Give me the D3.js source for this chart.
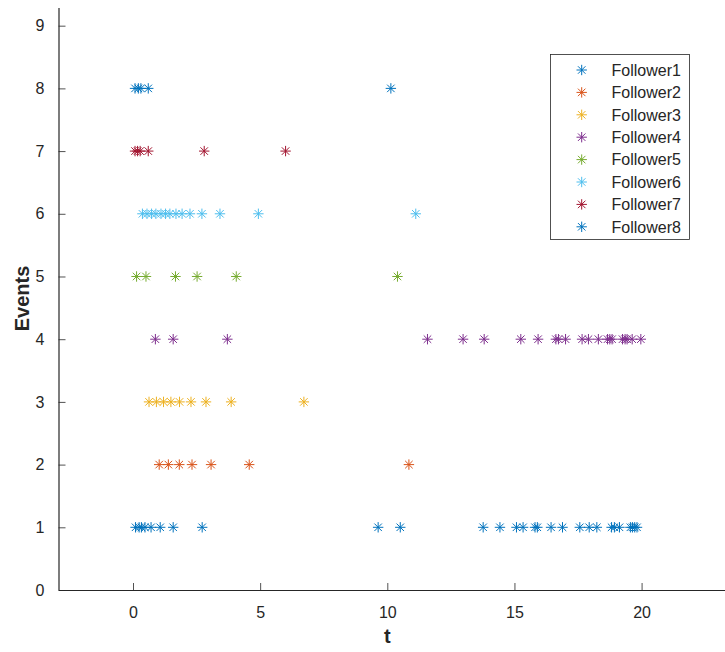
<!DOCTYPE html>
<html>
<head>
<meta charset="utf-8">
<script src="https://cdn.jsdelivr.net/npm/d3@7/dist/d3.min.js"></script>
<style>
  html, body { margin: 0; padding: 0; background: #fff; }
  svg { display: block; }
  text { font-family: "Liberation Sans", Arial, sans-serif; fill: #262626; }
</style>
</head>
<body>
<svg id="chart" width="725" height="652"></svg>
<script>
// ---- Data ----
const seriesNames = ["Follower1","Follower2","Follower3","Follower4","Follower5","Follower6","Follower7","Follower8"];
const seriesColors = ["#0072BD","#D95319","#EDB120","#7E2F8E","#77AC30","#4DBEEE","#A2142F","#0072BD"];
const eventLevels = [1, 2, 3, 4, 5, 6, 7, 8];

const f1Times = [0.10, 0.24, 0.33, 0.47, 0.71, 1.07, 1.58, 2.72, 9.64, 10.51, 13.77, 14.43, 15.08, 15.34, 15.81, 15.90, 16.44, 16.89, 17.57, 17.94, 18.24, 18.82, 18.93, 19.13, 19.56, 19.64, 19.73, 19.82];
const f2Times = [1.03, 1.39, 1.82, 2.32, 3.07, 4.57, 10.85];
const f3Times = [0.63, 0.92, 1.20, 1.49, 1.83, 2.28, 2.87, 3.86, 6.72];
const f4Times = [0.88, 1.58, 3.71, 11.58, 12.98, 13.81, 15.25, 15.93, 16.63, 16.73, 17.01, 17.66, 17.91, 18.30, 18.66, 18.75, 18.84, 19.25, 19.35, 19.43, 19.63, 19.97];
const f5Times = [0.14, 0.51, 1.67, 2.52, 4.06, 10.40];
const f6Times = [0.37, 0.55, 0.73, 0.90, 1.10, 1.28, 1.45, 1.69, 1.93, 2.24, 2.71, 3.42, 4.93, 11.12];
const f7Times = [0.08, 0.18, 0.28, 0.60, 2.80, 6.00];
const f8Times = [0.08, 0.21, 0.31, 0.60, 10.14];
const seriesTimes = [f1Times, f2Times, f3Times, f4Times, f5Times, f6Times, f7Times, f8Times];

const xTicks = [0, 5, 10, 15, 20];
const yTicks = [0, 1, 2, 3, 4, 5, 6, 7, 8, 9];
const xDomain = [-2.93, 23.28];
const yDomain = [0, 9.29];

// ---- Layout ----
const svg = d3.select("#chart");
const mLeft = 58.5, mRight = 725, mTop = 7.5, mBottom = 590;
const x = d3.scaleLinear().domain(xDomain).range([mLeft, mRight]);
const y = d3.scaleLinear().domain(yDomain).range([mBottom, mTop]);
const axisColor = "#262626";
const tickLen = 7;

// axes
const xAxis = d3.axisBottom(x).tickValues(xTicks).tickSizeInner(-tickLen).tickSizeOuter(0).tickPadding(14);
const yAxis = d3.axisLeft(y).tickValues(yTicks).tickSizeInner(-tickLen).tickSizeOuter(0).tickPadding(14);

const gx = svg.append("g").attr("transform", `translate(0,${mBottom})`).call(xAxis);
const gy = svg.append("g").attr("transform", `translate(${mLeft},0)`).call(yAxis);
[gx, gy].forEach(g => {
  g.select(".domain").attr("stroke", axisColor).attr("stroke-width", 1.2);
  g.selectAll(".tick line").attr("stroke", axisColor).attr("stroke-width", 0.8);
  g.selectAll(".tick text").style("font-family", '"Liberation Sans", Arial, sans-serif')
    .style("font-size", "16px").attr("fill", axisColor);
});
gx.selectAll(".tick text").attr("dy", "0.85em");

// axis labels
svg.append("text").attr("x", x(10)).attr("y", 643).attr("text-anchor", "middle")
  .style("font-size", "20px").style("font-weight", "bold").text("t");
svg.append("text").attr("transform", `translate(29,${y(4.65)}) rotate(-90)`).attr("text-anchor", "middle")
  .style("font-size", "20px").style("font-weight", "bold").text("Events");

// asterisk marker
function asterisk(g, cx, cy, r, color) {
  const d = r * 0.72;
  const path = `M${cx - r},${cy}L${cx + r},${cy}M${cx},${cy - r}L${cx},${cy + r}` +
               `M${cx - d},${cy - d}L${cx + d},${cy + d}M${cx - d},${cy + d}L${cx + d},${cy - d}`;
  g.append("path").attr("d", path).attr("stroke", color).attr("stroke-width", 1).attr("fill", "none");
}

// points
const plot = svg.append("g");
seriesTimes.forEach((times, i) => {
  const g = plot.append("g").attr("class", "series-" + (i + 1));
  times.forEach(t => asterisk(g, x(t), y(eventLevels[i]), 5.2, seriesColors[i]));
});

// legend
const lg = svg.append("g");
lg.append("rect").attr("x", 550.5).attr("y", 54.5).attr("width", 139).attr("height", 185)
  .attr("fill", "#fff").attr("stroke", axisColor).attr("stroke-width", 0.8);
seriesNames.forEach((name, i) => {
  const ry = 70 + i * 22.4;
  asterisk(lg, 581.7, ry, 5.2, seriesColors[i]);
  lg.append("text").attr("x", 611.5).attr("y", ry).attr("dy", "0.36em")
    .style("font-size", "16px").text(name);
});
</script>
</body>
</html>
